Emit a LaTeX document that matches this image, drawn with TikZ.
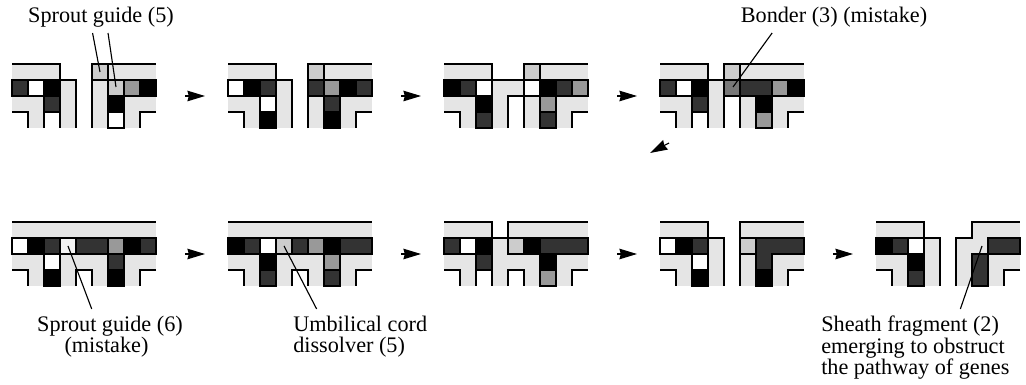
\documentclass[tikz,border=0pt]{standalone}
\usepackage{xcolor}
\usepackage{fontspec}
\setmainfont{Liberation Serif}
\usetikzlibrary{arrows.meta}

\definecolor{lt}{gray}{0.9}
\definecolor{pale}{gray}{0.95}
\definecolor{md}{gray}{0.8}
\definecolor{gr}{gray}{0.6}
\definecolor{mg}{gray}{0.47}
\definecolor{dk}{gray}{0.2}
\definecolor{bk}{gray}{0}
\definecolor{wh}{gray}{1}

\tikzset{
  panel/.style={shift={#1},x=0.4cm,y=-0.4cm},
  tile/.style={draw=black,line width=0.8pt},
  wall/.style={line width=0.8pt,line join=miter},
  flow/.style={line width=0.8pt,-{Stealth[length=12.5pt,width=7.5pt,inset=1pt]}},
  lead/.style={line width=0.8pt},
  lbl/.style={inner sep=0pt,font=\fontsize{15.8}{15}\selectfont,align=#1},
  lbl/.default=center,
}

% origin, white cells, coloured cells, joined dark cells, walls
\newcommand{\genepanel}[5]{
  \begin{scope}[panel={#1}]
    \fill[lt] (0,0) rectangle (9,4);
    \foreach \c/\r in {0/3,8/3,#2}
      \fill[white] (\c,\r) rectangle ++(1,1);
    \foreach \c/\r/\f in {#3}
      \draw[tile,fill=\f] (\c,\r) rectangle ++(1,1);
    \draw[tile,fill=dk] #4;
    \draw[wall] (0,3) -- (1,3) -- (1,4) (9,3) -- (8,3) -- (8,4) #5;
  \end{scope}
}

\begin{document}
\begin{tikzpicture}[x=0.025cm,y=-0.025cm]
  \useasboundingbox (0,0) rectangle (1026,385);

  % top row
  \genepanel{(12,64)}{3/0,4/0,4/1,4/2,4/3,2/3}
    {0/1/dk,1/1/wh,2/1/bk,2/2/dk,5/0/md,6/1/md,7/1/gr,8/1/bk,6/2/bk,6/3/wh}{}
    {(0,0) -- (3,0) -- (3,1) -- (4,1) -- (4,4) (5,4) -- (5,0) -- (9,0) (2,3) -- (2,4) (3,3) -- (3,4)}
  \genepanel{(228,64)}{3/0,4/0,4/1,4/2,4/3}
    {0/1/wh,1/1/bk,2/1/dk,2/2/wh,2/3/bk,5/0/md,5/1/dk,6/1/gr,7/1/bk,8/1/dk,6/2/dk,6/3/bk}{}
    {(0,0) -- (3,0) -- (3,1) -- (4,1) -- (4,4) (5,4) -- (5,0) -- (9,0)}
  \genepanel{(444,64)}{3/0,4/0,4/2,4/3}
    {0/1/bk,1/1/dk,2/1/wh,2/2/bk,2/3/dk,5/0/md,5/1/wh,6/1/bk,7/1/dk,8/1/gr,6/2/gr,6/3/dk}{}
    {(0,0) -- (3,0) -- (3,1) -- (5,1) -- (5,0) -- (9,0) (4,4) -- (4,2) -- (5,2) -- (5,4)}
  \genepanel{(660,64)}{3/0,4/2,4/3,2/3}
    {0/1/dk,1/1/wh,2/1/bk,2/2/dk,4/0/md,4/1/mg,7/1/gr,8/1/bk,6/2/bk,6/3/gr}{(5,1) rectangle (7,2)}
    {(0,0) -- (3,0) -- (3,1) -- (4,1) -- (4,0) -- (9,0) (4,2) -- (4,4) (5,2) -- (5,4) (2,3) -- (2,4) (3,3) -- (3,4)}

  % bottom row
  \genepanel{(12,222)}{4/3}
    {0/1/wh,1/1/bk,2/1/dk,3/1/pale,6/1/gr,7/1/bk,8/1/dk,2/2/wh,2/3/bk,6/2/dk,6/3/bk}{(4,1) rectangle (6,2)}
    {(0,0) -- (9,0) (4,4) -- (4,3) -- (5,3) -- (5,4)}
  \genepanel{(228,222)}{4/3}
    {0/1/bk,1/1/dk,2/1/wh,3/1/md,4/1/dk,5/1/gr,6/1/bk,2/2/bk,2/3/dk,6/2/gr,6/3/dk}{(7,1) rectangle (9,2)}
    {(0,0) -- (9,0) (4,4) -- (4,3) -- (5,3) -- (5,4)}
  \genepanel{(444,222)}{3/0,2/3,4/3}
    {0/1/dk,1/1/wh,2/1/bk,2/2/dk,4/1/md,5/1/bk,6/2/bk,6/3/gr}{(6,1) rectangle (9,2)}
    {(0,0) -- (3,0) -- (3,1) -- (4,1) -- (4,0) -- (9,0) (2,3) -- (2,4) (3,3) -- (3,4) (4,4) -- (4,3) -- (5,3) -- (5,4)}
  \genepanel{(660,222)}{3/0,4/0,4/1,4/2,4/3}
    {0/1/wh,1/1/bk,2/1/dk,2/2/wh,2/3/bk,5/1/md,6/3/bk}{(6,1) -- (9,1) -- (9,2) -- (7,2) -- (7,3) -- (6,3) -- cycle}
    {(0,0) -- (3,0) -- (3,1) -- (4,1) -- (4,4) (5,4) -- (5,0) -- (9,0)}
  \genepanel{(876,222)}{3/0,4/0,4/1,4/2,4/3,5/0}
    {0/1/bk,1/1/dk,2/1/wh,2/2/bk,2/3/dk}{(6,2) rectangle (7,4) (7,1) rectangle (9,2)}
    {(0,0) -- (3,0) -- (3,1) -- (4,1) -- (4,4) (5,4) -- (5,1) -- (6,1) -- (6,0) -- (9,0)}

  % arrows between the panels
  \foreach \i/\x/\y in {1/185/96,2/401/96,3/617/96,4/185/254,5/401/254,6/617/254,7/833/254} {
    \coordinate (tail\i) at (\x,\y);
    \coordinate (head\i) at (\x+20,\y);
    \draw[flow] (tail\i) -- (head\i);
  }
  \coordinate (tail8) at (669,143);
  \coordinate (head8) at (650,153);
  \draw[flow] (tail8) -- (head8);

  % labels
  \node[lbl] (sprout5) at (101,17) {Sprout guide (5)};
  \node[lbl] (bonder3) at (834,17) {Bonder (3) (mistake)};
  \node[lbl,anchor=north] (sprout6) at (110,316) {Sprout guide (6)\\(mistake)\hspace*{5pt}};
  \node[lbl=left,anchor=north west] (cord5) at (293,316) {Umbilical cord\\dissolver (5)};
  \node[lbl=left,anchor=north west] (sheath2) at (821,316) {Sheath fragment (2)\\emerging to obstruct\\the pathway of genes};

  \coordinate (guideA) at (100,72);
  \coordinate (guideB) at (116,87);
  \coordinate (bonderend) at (733,87);
  \coordinate (sprout6end) at (68,246);
  \coordinate (cord5end) at (284,246);
  \coordinate (sheath2end) at (982,246);

  \draw[lead] ([xshift=-6pt,yshift=-4pt]sprout5.south) -- (guideA);
  \draw[lead] ([xshift=5pt,yshift=-4pt]sprout5.south) -- (guideB);
  \draw[lead] ([xshift=-44pt,yshift=-4pt]bonder3.south) -- (bonderend);
  \draw[lead] ([xshift=-13pt,yshift=5pt]sprout6.north) -- (sprout6end);
  \draw[lead] ([xshift=-31pt,yshift=5pt]cord5.north) -- (cord5end);
  \draw[lead] ([xshift=32pt,yshift=5pt]sheath2.north) -- (sheath2end);
\end{tikzpicture}
\end{document}
